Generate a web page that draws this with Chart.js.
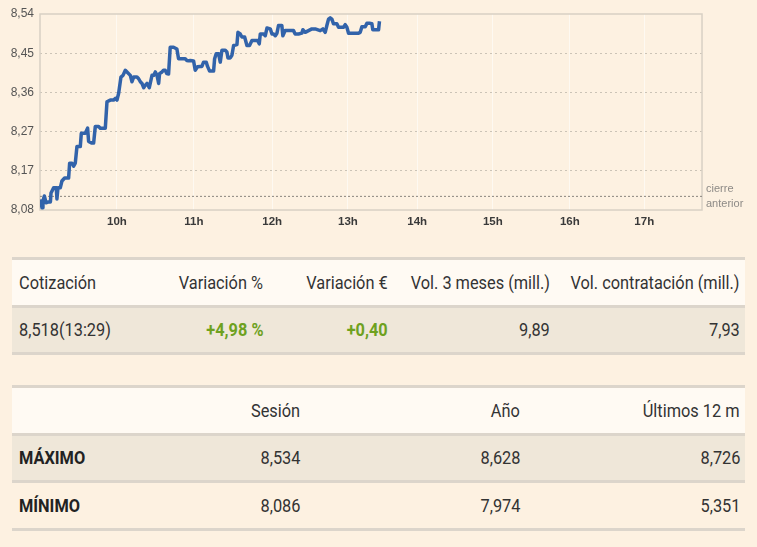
<!DOCTYPE html>
<html lang="es">
<head>
<meta charset="utf-8">
<script src="https://cdn.jsdelivr.net/npm/chart.js@4/dist/chart.umd.min.js"></script>
<style>
  html, body { margin: 0; padding: 0; background: #fdf1e1; }
  body { width: 757px; height: 547px; overflow: hidden; font-family: Roboto, "Noto Sans", sans-serif; }
  #chart-wrap { position: relative; width: 757px; height: 232px; }
  table { border-collapse: collapse; table-layout: fixed; width: 733px; margin-left: 12px; font-size: 19px; color: #333; }
  td { height: 44.5px; padding: 0 5px 0 7px; border-top: 3px solid #dcd5cb; border-bottom: 3px solid #dcd5cb; white-space: nowrap; text-align: right; direction: rtl; overflow: visible; }
  td span { display: inline-block; direction: ltr; transform: scaleX(0.86); transform-origin: right center; }
  td:first-child { text-align: left; direction: ltr; }
  td:first-child span { transform-origin: left center; }
  tr.head td { background: #fffaf3; }
  tr.shade td { background: #efe7d9; }
  td.up { color: #6ea11f; font-weight: bold; }
  td.lbl { font-weight: bold; color: #222; }
  #t1 { margin-top: 25px; }
  #t2 { margin-top: 30px; }
</style>
</head>
<body>
<div id="chart-wrap"><canvas id="chart-intraday"></canvas></div>

<table id="t1">
  <colgroup><col style="width:140px"><col style="width:116px"><col style="width:125px"><col style="width:162px"><col style="width:190px"></colgroup>
  <tr class="head"><td><span>Cotización</span></td><td><span>Variación %</span></td><td><span>Variación €</span></td><td><span>Vol. 3 meses (mill.)</span></td><td><span>Vol. contratación (mill.)</span></td></tr>
  <tr class="shade"><td><span>8,518(13:29)</span></td><td class="up"><span>+4,98 %</span></td><td class="up"><span>+0,40</span></td><td><span>9,89</span></td><td><span>7,93</span></td></tr>
</table>

<table id="t2">
  <colgroup><col style="width:150px"><col style="width:143px"><col style="width:220px"><col style="width:220px"></colgroup>
  <tr class="head"><td></td><td><span>Sesión</span></td><td><span>Año</span></td><td><span>Últimos 12 m</span></td></tr>
  <tr class="shade"><td class="lbl"><span>MÁXIMO</span></td><td><span>8,534</span></td><td><span>8,628</span></td><td><span>8,726</span></td></tr>
  <tr><td class="lbl"><span>MÍNIMO</span></td><td><span>8,086</span></td><td><span>7,974</span></td><td><span>5,351</span></td></tr>
</table>

<script>
// minutes after 9:00
const times = [
  0.3, 1.6, 2.3, 3.4, 4.7, 6.8, 8.1, 8.6, 10.6, 12.7, 13.2, 14.0, 15.8, 17.1, 19.2, 22.3, 23.1, 24.9, 26.2, 27.5,
  28.8, 31.4, 32.2, 35.3, 37.1, 37.9, 40.5, 41.8, 43.1, 45.7, 47.0, 48.3, 50.9, 52.2, 54.8, 57.4, 58.7, 60.0, 61.3, 63.1,
  64.7, 66.5, 67.8, 70.4, 71.7, 73.0, 75.6, 76.9, 78.2, 79.5, 80.8, 82.1, 83.4, 85.2, 87.3, 88.6, 89.9, 91.2, 92.5, 93.2,
  95.1, 96.3, 97.6, 98.9, 100.2, 101.5, 104.1, 106.7, 108.0, 110.6, 113.2, 114.5, 115.8, 117.1, 119.7, 121.0, 122.8, 124.9, 126.2, 127.5,
  129.6, 130.6, 132.2, 135.3, 136.1, 137.4, 139.2, 140.5, 141.8, 144.4, 145.7, 146.5, 148.3, 149.6, 150.9, 153.5, 154.3, 156.1, 157.4, 159.5,
  161.3, 163.3, 165.2, 167.8, 169.6, 170.9, 171.7, 174.3, 175.6, 176.9, 179.5, 180.8, 182.1, 183.4, 184.7, 185.9, 188.5, 189.3, 191.1, 193.0,
  195.0, 197.6, 198.9, 201.5, 204.1, 204.9, 206.7, 209.3, 211.9, 214.5, 218.4, 220.5, 222.3, 223.6, 224.9, 226.2, 227.5, 228.8, 231.4, 232.7,
  236.6, 237.9, 239.2, 240.5, 243.1, 245.7, 248.3, 249.6, 250.9, 253.5, 254.8, 257.4, 258.7, 259.4, 261.3, 263.9, 264.6
];
const prices = [
  8.107, 8.087, 8.103, 8.115, 8.099, 8.101, 8.101, 8.122, 8.134, 8.134, 8.108, 8.134, 8.134, 8.150, 8.157, 8.157, 8.192, 8.192, 8.185, 8.192,
  8.231, 8.231, 8.262, 8.262, 8.274, 8.243, 8.239, 8.239, 8.278, 8.278, 8.274, 8.274, 8.274, 8.336, 8.340, 8.340, 8.344, 8.340, 8.356, 8.394,
  8.398, 8.410, 8.406, 8.398, 8.383, 8.394, 8.394, 8.390, 8.383, 8.379, 8.369, 8.375, 8.379, 8.369, 8.398, 8.398, 8.406, 8.398, 8.379, 8.402,
  8.406, 8.410, 8.410, 8.402, 8.401, 8.464, 8.464, 8.460, 8.437, 8.437, 8.437, 8.433, 8.432, 8.433, 8.432, 8.410, 8.418, 8.419, 8.419, 8.429,
  8.429, 8.419, 8.408, 8.408, 8.437, 8.449, 8.449, 8.429, 8.457, 8.457, 8.453, 8.439, 8.439, 8.445, 8.468, 8.470, 8.499, 8.495, 8.488, 8.488,
  8.468, 8.468, 8.480, 8.480, 8.480, 8.472, 8.495, 8.495, 8.491, 8.509, 8.507, 8.495, 8.495, 8.491, 8.497, 8.515, 8.515, 8.491, 8.503, 8.503,
  8.503, 8.503, 8.495, 8.495, 8.497, 8.505, 8.499, 8.503, 8.507, 8.507, 8.503, 8.507, 8.499, 8.515, 8.530, 8.533, 8.530, 8.519, 8.519, 8.511,
  8.511, 8.517, 8.511, 8.497, 8.497, 8.497, 8.497, 8.499, 8.512, 8.512, 8.520, 8.520, 8.519, 8.505, 8.505, 8.505, 8.525
];
const prevClose = 8.114;
const xRange = [0, 516];
const xTickMinutes = [60, 120, 181, 240, 294, 353, 413, 471];
const xTickLabels = ['10h', '11h', '12h', '13h', '14h', '15h', '16h', '17h'];
const yTicks = [8.082, 8.174, 8.266, 8.358, 8.45, 8.542];
const yTickLabels = ['8,08', '8,17', '8,27', '8,36', '8,45', '8,54'];

const FramePlugin = {
  id: 'frame',
  beforeDatasetsDraw(chart) {
    const { ctx, chartArea: a } = chart;
    ctx.save();
    ctx.strokeStyle = '#d8d0c4';
    ctx.lineWidth = 1.5;
    ctx.strokeRect(a.left, a.top, a.right - a.left, a.bottom - a.top);
    ctx.restore();
  },
  afterDraw(chart) {
    const { ctx, chartArea: a } = chart;
    const y = chart.scales.y.getPixelForValue(prevClose);
    ctx.save();
    ctx.fillStyle = '#8d8a86';
    ctx.font = '11px "Liberation Sans", Arial, sans-serif';
    ctx.textBaseline = 'middle';
    ctx.fillText('cierre', a.right + 4, y - 7);
    ctx.fillText('anterior', a.right + 4, y + 8);
    ctx.restore();
  }
};

new Chart(document.getElementById('chart-intraday'), {
  type: 'line',
  data: {
    datasets: [
      { data: times.map((t, i) => ({ x: t, y: prices[i] })), borderColor: '#3263aa', borderWidth: 3.5, pointRadius: 0, tension: 0, borderJoinStyle: 'round', order: 0 },
      { data: xRange.map(t => ({ x: t, y: prevClose })), borderColor: '#8a857e', borderWidth: 1, borderDash: [2, 2], pointRadius: 0, order: 1 }
    ]
  },
  options: {
    responsive: true, maintainAspectRatio: false, animation: false,
    layout: { padding: { top: 14, right: 55, left: 0, bottom: 0 } },
    plugins: { legend: { display: false }, tooltip: { enabled: false } },
    scales: {
      x: {
        type: 'linear', min: xRange[0], max: xRange[1],
        afterBuildTicks: s => { s.ticks = xTickMinutes.map(v => ({ value: v })); },
        afterFit: s => { s.height = 22; },
        ticks: { color: '#3a3a3a', font: { family: '"Liberation Sans", Arial, sans-serif', size: 11.5, weight: 'bold' }, padding: 5, maxRotation: 0, autoSkip: false,
          callback: (v, i) => xTickLabels[i] },
        grid: { color: 'rgba(255,255,255,0.55)', drawTicks: false },
        border: { display: false }
      },
      y: {
        min: yTicks[0], max: yTicks[yTicks.length - 1],
        afterBuildTicks: s => { s.ticks = yTicks.map(v => ({ value: v })); },
        afterFit: s => { s.width = 40; },
        ticks: { color: '#555', font: { family: '"Liberation Sans", Arial, sans-serif', size: 12 }, padding: 6, autoSkip: false,
          callback: (v, i) => yTickLabels[i] },
        grid: { color: ctx => (ctx.index === 0 || ctx.index === yTicks.length - 1) ? 'rgba(0,0,0,0)' : '#cbc3b6', drawTicks: false },
        border: { display: false, dash: [2, 3] }
      }
    }
  },
  plugins: [FramePlugin]
});
</script>
</body>
</html>
